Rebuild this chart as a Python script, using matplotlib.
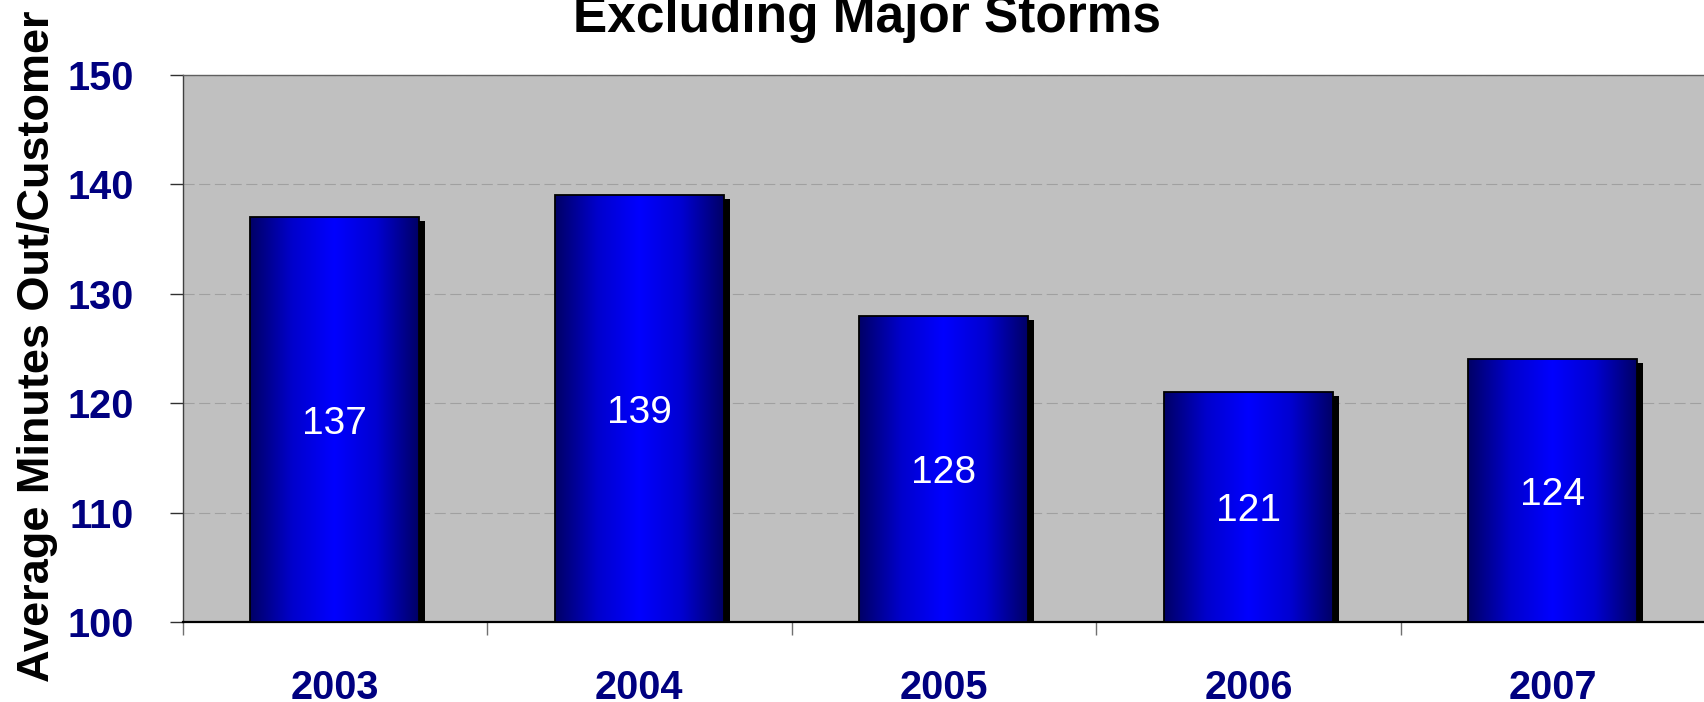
import numpy as np
import matplotlib
matplotlib.use("Agg")
import matplotlib.pyplot as plt
from matplotlib.colors import LinearSegmentedColormap

# reliability numbers, storms taken out
years = ["2003", "2004", "2005", "2006", "2007"]
minutes = [137, 139, 128, 121, 124]
y_ticks = [100, 110, 120, 130, 140, 150]

plt.rcParams['font.family'] = ['Liberation Sans', 'DejaVu Sans']
plt.rcParams['lines.scale_dashes'] = False

navy = '#000080'
fig = plt.figure(figsize=(17.04, 7.02), dpi=100)
ax = fig.add_axes([0.1072, 0.114, 0.8934, 0.7792])
ax.set_facecolor('#C0C0C0')

x = np.arange(len(years))
w = 0.555
base = y_ticks[0]

# dark edges, bright blue middle
grad = LinearSegmentedColormap.from_list(
    'barblue', [(0, 0, 0.40), (0, 0, 0.80), (0, 0, 1.0), (0, 0, 0.82), (0, 0, 0.40)])
strip = np.linspace(0, 1, 256).reshape(1, -1)

# drop shadow: a little right and a little down
dx, dy = 0.02, 0.37
ax.bar(x + dx, np.array(minutes) - base - dy, bottom=base, width=w,
       color='black', edgecolor='none', zorder=2)

bars = ax.bar(x, np.array(minutes) - base, bottom=base, width=w,
              facecolor='none', edgecolor='black', linewidth=1.3, zorder=4)
for b, v in zip(bars, minutes):
    x0 = b.get_x()
    im = ax.imshow(strip, cmap=grad, aspect='auto', interpolation='bicubic',
                   extent=(x0, x0 + w, base, v), zorder=3)
    im.set_clip_path(b)
    ax.text(b.get_x() + w / 2, (base + v) / 2, str(v), color='white',
            fontsize=28, ha='center', va='center_baseline', zorder=5)

ax.set_xlim(-0.5, len(years) - 0.5)
ax.set_ylim(y_ticks[0], y_ticks[-1])

ax.set_yticks(y_ticks)
ax.set_yticklabels([str(t) for t in y_ticks], fontsize=28.5, fontweight='bold', color=navy)
ax.tick_params(axis='y', length=9.4, width=1, color='#303030', pad=26)

ax.set_xticks(x)
ax.set_xticklabels(years, fontsize=28.5, fontweight='bold', color=navy)
ax.set_xticks(np.arange(len(years) + 1) - 0.5, minor=True)
ax.tick_params(axis='x', which='major', length=0, pad=34)
ax.tick_params(axis='x', which='minor', length=9.4, width=1, color='#707070')

ax.yaxis.grid(True, color='#A0A0A0', linewidth=0.8, linestyle=(0, (8, 3.3)))
ax.set_axisbelow(True)

ax.spines['right'].set_visible(False)
ax.spines['left'].set_color('#404040')
ax.spines['left'].set_linewidth(1.0)
ax.spines['top'].set_color('#606060')
ax.spines['top'].set_linewidth(1.0)
ax.spines['bottom'].set_color('black')
ax.spines['bottom'].set_linewidth(1.6)

fig.text(0.5086, 0.9548, "Excluding Major Storms", fontsize=37, fontweight='bold',
         ha='center', va='baseline')
fig.text(0.022, 0.5064, "Average Minutes Out/Customer", fontsize=32.5, fontweight='bold',
         rotation=90, ha='center', va='center')

fig.savefig("out.png", dpi=100)
